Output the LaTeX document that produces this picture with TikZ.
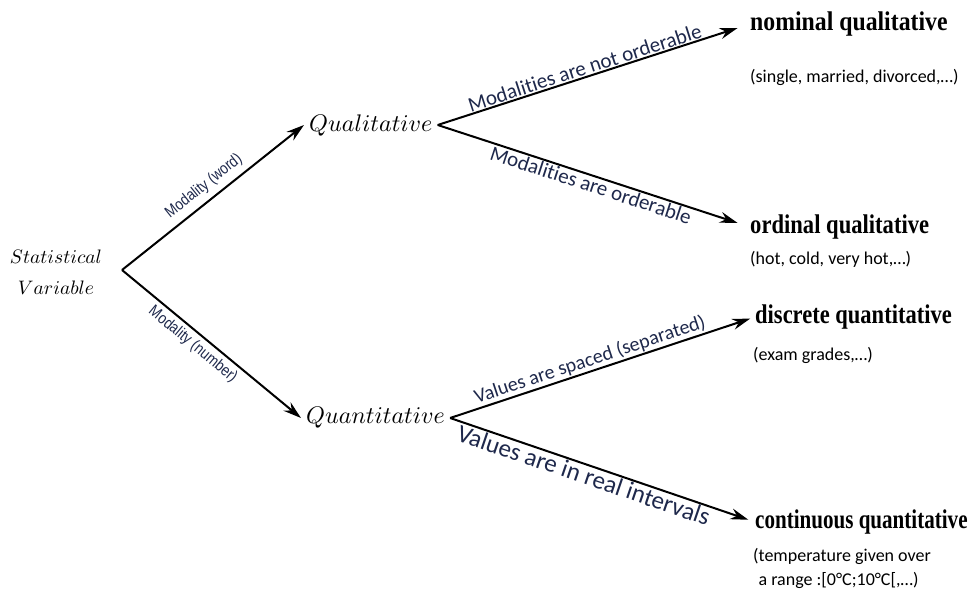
\documentclass[tikz,border=0pt]{standalone}
\usepackage{fontspec}
\usetikzlibrary{arrows.meta}
\newfontfamily\leaffont{Liberation Serif}
\newfontfamily\narrowfont[FakeStretch=0.85]{Liberation Sans}
\newfontfamily\calfont[Ligatures=NoCommon]{Carlito}
\definecolor{lbl}{RGB}{30,40,75}
\newcommand{\bigmath}[2]{\scalebox{#1}{$#2$}}
\newcommand{\leaftext}[2]{\scalebox{#1}[1]{#2}}
\begin{document}
\begin{tikzpicture}[x=1pt,y=-1pt,
  arr/.style={line width=2pt,-{Stealth[length=18pt,width=11pt,inset=6pt]}},
  mathlbl/.style={anchor=west,inner ysep=2pt,inner xsep=5pt},
  rootlbl/.style={align=center,inner sep=0pt,font=\fontsize{10}{31}\selectfont},
  leaf/.style={anchor=west,inner xsep=0pt,font=\leaffont\bfseries\fontsize{27}{30}\selectfont},
  example/.style={anchor=west,inner sep=0pt,font=\calfont\fontsize{18}{24}\selectfont,align=left},
  elabel/.style={sloped,text=lbl,font=\calfont\fontsize{21}{24}\selectfont,inner sep=1pt},
  small/.style={sloped,text=lbl,font=\narrowfont\fontsize{16}{18}\selectfont,inner sep=4pt}
]
\path[use as bounding box] (0,0) rectangle (968,594);

\coordinate (root) at (122,270);
\node[rootlbl] (stat) at (56,272) {\bigmath{1.95}{Statistical}\\\bigmath{1.95}{Variable}};

\node[mathlbl] (qual) at (304,125) {\bigmath{2.4}{Qualitative}};
\node[mathlbl] (quant) at (301,418) {\bigmath{2.4}{Quantitative}};

\node[leaf] (nom) at (750,24) {\leaftext{0.88}{nominal qualitative}};
\node[leaf] (ord) at (750,227) {\leaftext{0.837}{ordinal qualitative}};
\node[leaf] (disc) at (755,317) {\leaftext{0.834}{discrete quantitative}};
\node[leaf] (cont) at (755,522) {\leaftext{0.78}{continuous quantitative}};

\node[example] (nomex) at (750,77) {(single, married, divorced,…)};
\node[example] (ordex) at (750,259) {(hot, cold, very hot,…)};
\node[example] (discex) at (753,355) {(exam grades,…)};
\node[example] (contex) at (753,568) {(temperature given over\\\hspace{0.3em}a range :[0°C;10°C[,…)};

\draw[arr] (root) -- node[small,above,pos=0.5,inner sep=6pt]{Modality (word)} (qual.west);
\draw[arr] (root) -- node[small,below,pos=0.44]{Modality (number)} (quant.west);
\draw[arr,shorten >=13pt] (qual.east) -- node[elabel,above,pos=0.48]{Modalities are not orderable} (nom.west);
\draw[arr,shorten >=13pt] (qual.east) -- node[elabel,below,pos=0.5]{Modalities are orderable} (ord.west);
\draw[arr,shorten >=5pt] (quant.east) -- node[elabel,above,pos=0.47,font=\calfont\fontsize{20}{24}\selectfont]{Values are spaced (separated)} (disc.west);
\draw[arr,shorten >=7pt] (quant.east) -- node[elabel,below,pos=0.45,font=\calfont\fontsize{25}{28}\selectfont]{Values are in real intervals} (cont.west);
\end{tikzpicture}
\end{document}
